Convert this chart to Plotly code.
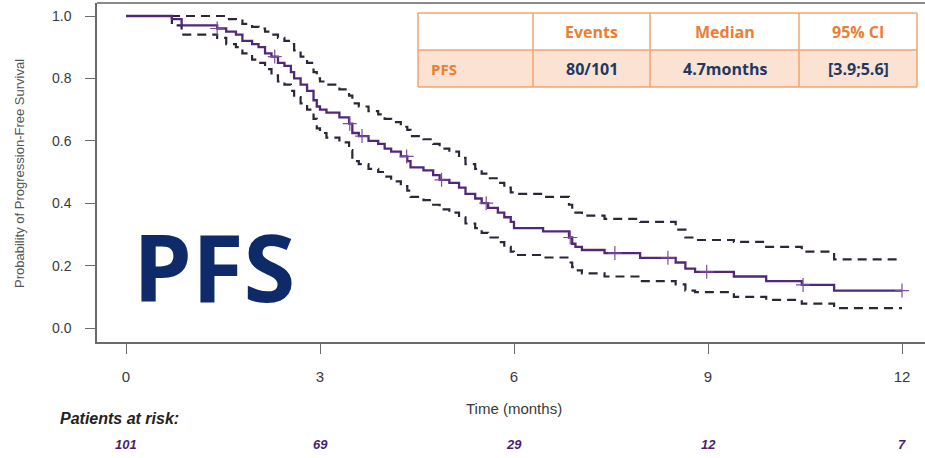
import numpy as np
import plotly.graph_objects as go

# Kaplan-Meier estimate of progression-free survival with 95% confidence band
time_months = [0.00, 0.71, 0.86, 1.41, 1.55, 1.70, 1.80, 1.95, 2.05, 2.15, 2.25, 2.35,
               2.45, 2.55, 2.60, 2.70, 2.80, 2.90, 2.95, 3.00, 3.10, 3.30, 3.45, 3.50,
               3.60, 3.75, 3.90, 4.00, 4.10, 4.25, 4.35, 4.40, 4.60, 4.75, 4.85, 5.00,
               5.15, 5.25, 5.40, 5.50, 5.60, 5.75, 5.85, 5.95, 6.00, 6.45, 6.85, 6.90,
               6.95, 7.05, 7.40, 7.95, 8.50, 8.65, 8.80, 9.40, 9.90, 10.45, 10.95, 12.00]
survival = [1.00, 0.99, 0.97, 0.96, 0.95, 0.94, 0.92, 0.91, 0.90, 0.88, 0.87, 0.85,
            0.84, 0.82, 0.80, 0.78, 0.76, 0.73, 0.71, 0.70, 0.69, 0.675, 0.655, 0.625,
            0.615, 0.60, 0.59, 0.575, 0.565, 0.55, 0.535, 0.515, 0.505, 0.49, 0.475, 0.465,
            0.45, 0.43, 0.415, 0.40, 0.385, 0.37, 0.355, 0.34, 0.32, 0.31, 0.29, 0.27,
            0.26, 0.25, 0.24, 0.225, 0.21, 0.19, 0.18, 0.165, 0.15, 0.138, 0.12, 0.12]
ci_lower = [1.00, 0.97, 0.94, 0.93, 0.91, 0.90, 0.88, 0.86, 0.85, 0.83, 0.81, 0.79,
            0.78, 0.76, 0.74, 0.72, 0.70, 0.67, 0.64, 0.625, 0.61, 0.595, 0.57, 0.535,
            0.525, 0.51, 0.50, 0.485, 0.47, 0.455, 0.44, 0.42, 0.41, 0.395, 0.38, 0.37,
            0.355, 0.335, 0.32, 0.305, 0.29, 0.275, 0.26, 0.245, 0.234, 0.226, 0.21, 0.195,
            0.185, 0.175, 0.165, 0.15, 0.14, 0.12, 0.115, 0.10, 0.09, 0.078, 0.064, 0.064]
ci_upper = [1.00, 1.00, 1.00, 1.00, 0.99, 0.985, 0.975, 0.965, 0.96, 0.95, 0.94, 0.93,
            0.92, 0.91, 0.89, 0.87, 0.85, 0.82, 0.80, 0.79, 0.78, 0.765, 0.745, 0.72,
            0.71, 0.695, 0.685, 0.67, 0.66, 0.645, 0.635, 0.615, 0.605, 0.59, 0.575, 0.565,
            0.545, 0.525, 0.51, 0.495, 0.48, 0.465, 0.45, 0.435, 0.43, 0.42, 0.395, 0.378,
            0.37, 0.36, 0.35, 0.34, 0.315, 0.29, 0.282, 0.276, 0.26, 0.245, 0.22, 0.22]
censor_times = [1.41, 2.30, 3.46, 3.65, 4.34, 4.88, 5.57, 6.87, 7.56, 8.38, 8.98, 10.47, 12.00]

# Numbers at risk
risk_times = [0, 3, 6, 9, 12]
risk_counts = [101, 69, 29, 12, 7]

# Summary table
table_header = ["", "Events", "Median", "95% CI"]
table_row = ["PFS", "80/101", "4.7months", "[3.9;5.6]"]

x_ticks = [0, 3, 6, 9, 12]
y_ticks = [0.0, 0.2, 0.4, 0.6, 0.8, 1.0]

W, H = 925, 458
L, R, T, B = 97, 925, 3, 342


def px_x(px):
    return (px - L) / (R - L)


def px_y(py):
    return (B - py) / (B - T)


EST_COLOR = "#512878"
CI_COLOR = "#2E2538"
AXIS_COLOR = "#6b6b6b"
TEXT_COLOR = "#3a3a3a"

fig = go.Figure()

for band in (ci_upper, ci_lower):
    fig.add_trace(go.Scatter(
        x=time_months, y=band, mode="lines", line_shape="hv",
        line=dict(color=CI_COLOR, width=2.2, dash="9px,6px"),
        hoverinfo="skip"))

fig.add_trace(go.Scatter(
    x=time_months, y=survival, mode="lines", line_shape="hv",
    line=dict(color=EST_COLOR, width=2.3), name="PFS"))

# censoring marks sit on the step function
t_arr = np.array(time_months)
s_arr = np.array(survival)
idx = np.searchsorted(t_arr, np.array(censor_times), side="right") - 1
fig.add_trace(go.Scatter(
    x=censor_times, y=s_arr[idx], mode="markers",
    marker=dict(symbol="cross-thin", size=10,
                line=dict(color="#7a4f9a", width=1.2)),
    hoverinfo="skip"))

fig.update_layout(
    width=W, height=H,
    margin=dict(l=L, r=W - R, t=T, b=H - B),
    paper_bgcolor="white", plot_bgcolor="white",
    showlegend=False,
    font=dict(family="Liberation Sans, Arial, sans-serif", color=TEXT_COLOR),
)

fig.update_xaxes(
    range=[(L - 126) / 64.667, (R - 126) / 64.667],
    tickvals=x_ticks, ticktext=[str(v) for v in x_ticks],
    ticks="outside", ticklen=10, tickwidth=1, tickcolor=AXIS_COLOR,
    ticklabelstandoff=10,
    showline=True, linecolor=AXIS_COLOR, linewidth=1.5,
    showgrid=False, zeroline=False,
    tickfont=dict(size=15, color=TEXT_COLOR),
)
fig.update_yaxes(
    range=[(328 - B) / 312, (328 - T) / 312],
    tickvals=y_ticks, ticktext=[f"{v:.1f}" for v in y_ticks],
    ticks="outside", ticklen=10, tickwidth=1, tickcolor=AXIS_COLOR,
    ticklabelstandoff=11,
    showline=True, linecolor=AXIS_COLOR, linewidth=1.5,
    showgrid=False, zeroline=False,
    tickfont=dict(size=14, color=TEXT_COLOR),
)

# top edge of the plotting box
fig.add_shape(type="line", xref="paper", yref="paper", x0=0, x1=1, y0=1, y1=1,
              line=dict(color="#8a8a8a", width=2))


def label(text, x, y, xref="paper", size=14, color=TEXT_COLOR, family=None,
          xanchor="center", angle=0):
    f = dict(size=size, color=color)
    if family:
        f["family"] = family
    fig.add_annotation(text=text, xref=xref, yref="paper", x=x, y=y,
                       xanchor=xanchor, yanchor="middle", textangle=angle,
                       showarrow=False, font=f)


# axis titles
label("Probability of Progression-Free Survival", px_x(19), px_y(174),
      size=13, color="#555555", angle=-90)
label("Time (months)", 6, px_y(408), xref="x", size=15)

# numbers at risk
label("<b><i>Patients at risk:</i></b>", px_x(58), px_y(418), size=16,
      color="#222222", xanchor="left")
for t, n in zip(risk_times, risk_counts):
    label(f"<b><i>{n}</i></b>", t, px_y(444), xref="x", size=13, color="#4B1F6F")

# large panel label
label("<b>PFS</b>", px_x(214), px_y(266), size=94, color="#0E2A68",
      family="Open Sans, sans-serif")

# summary table
col_edges = [418, 533, 650, 799, 917]
row_edges = [13, 50, 87]
ORANGE = "#ED7D31"
BORDER = "#F2A46E"
NAVY = "#1F3864"
fig.add_shape(type="rect", xref="paper", yref="paper",
              x0=px_x(col_edges[0]), x1=px_x(col_edges[-1]),
              y0=px_y(row_edges[2]), y1=px_y(row_edges[1]),
              fillcolor="#FBE2D2", line=dict(width=0), layer="above")
for xe in col_edges:
    fig.add_shape(type="line", xref="paper", yref="paper",
                  x0=px_x(xe), x1=px_x(xe), y0=px_y(row_edges[0]), y1=px_y(row_edges[2]),
                  line=dict(color=BORDER, width=1.5), layer="above")
for ye in row_edges:
    fig.add_shape(type="line", xref="paper", yref="paper",
                  x0=px_x(col_edges[0]), x1=px_x(col_edges[-1]), y0=px_y(ye), y1=px_y(ye),
                  line=dict(color=BORDER, width=1.5), layer="above")

tfont = "Open Sans, sans-serif"
head_y = px_y((row_edges[0] + row_edges[1]) / 2)
row_y = px_y((row_edges[1] + row_edges[2]) / 2)
for i, h in enumerate(table_header):
    if not h:
        continue
    cx = (col_edges[i] + col_edges[i + 1]) / 2
    label(f"<b>{h}</b>", px_x(cx), head_y, size=16, color=ORANGE, family=tfont)
for i, v in enumerate(table_row):
    if i == 0:
        label(f"<b>{v}</b>", px_x(col_edges[0] + 11), row_y, size=15, color=ORANGE,
              family=tfont, xanchor="left")
    else:
        cx = (col_edges[i] + col_edges[i + 1]) / 2
        label(f"<b>{v}</b>", px_x(cx), row_y, size=16, color=NAVY, family=tfont)

fig.write_html("out.html")
